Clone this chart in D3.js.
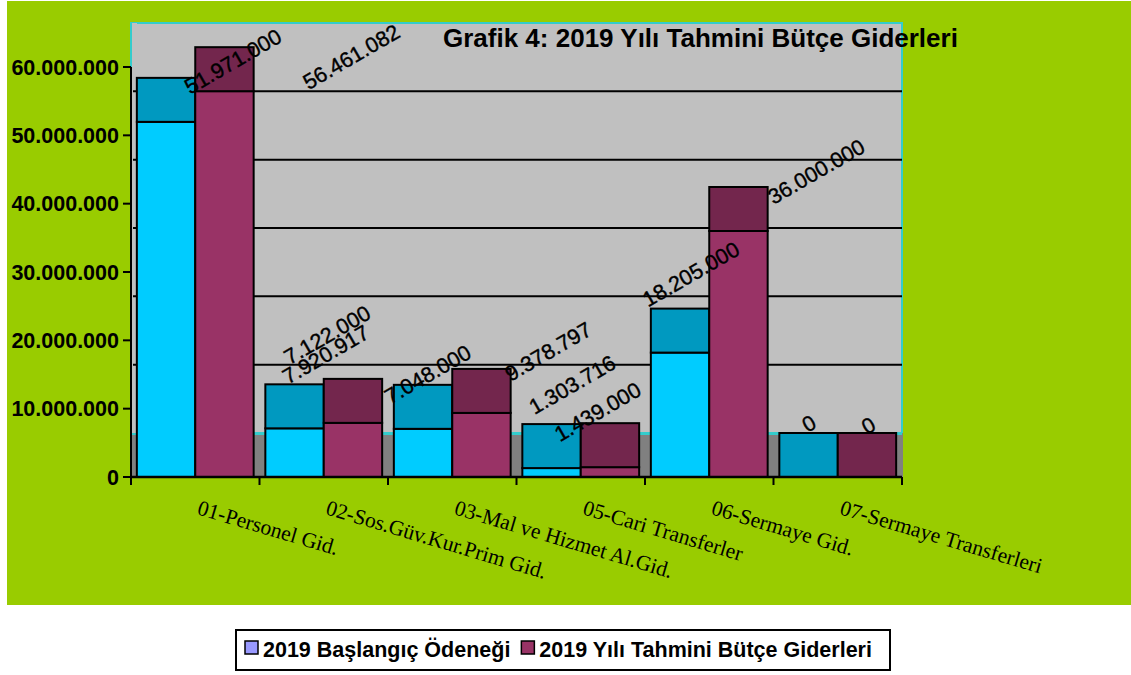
<!DOCTYPE html>
<html>
<head>
<meta charset="utf-8">
<script src="https://cdn.jsdelivr.net/npm/d3@7"></script>
<style>
  body { margin: 0; background: #fff; }
  svg { display: block; font-family: "Liberation Sans", Arial, sans-serif; }
</style>
</head>
<body>
<svg id="chart"></svg>
<script>
// Chart data
const categories = [
    "01-Personel Gid.",
    "02-Sos.Güv.Kur.Prim Gid.",
    "03-Mal ve Hizmet Al.Gid.",
    "05-Cari Transferler",
    "06-Sermaye Gid.",
    "07-Sermaye Transferleri"
];
const seriesNames = ["2019 Başlangıç Ödeneği", "2019 Yılı Tahmini Bütçe Giderleri"];
const baslangic = [51971000, 7122000, 7048000, 1303716, 18205000, 0];
const tahmini = [56461082, 7920917, 9378797, 1439000, 36000000, 0];
const yTicks = [0, 10000000, 20000000, 30000000, 40000000, 50000000, 60000000];
const title = "Grafik 4: 2019 Yılı Tahmini Bütçe Giderleri";

// Excel placed the value labels by hand, so keep a nudge per label (px from bar top centre)
const labelNudge = [
    [[24, -27], [-5, -63], [-33, -24], [-17, -53], [-32, -45], [-1, -44]],
    [[84, -1], [-65, -38], [29, -31], [-50, -25], [35, -26], [0, -42]]
];

const width = 1131;
const height = 675;
const depth = 44;            // pseudo 3D depth of the floor / bar tops
const frontColors = ["#00ccff", "#993366"];
const topColors = ["#0099c0", "#73264d"];
const legendColors = ["#9999ff", "#993366"];

const svg = d3.select("#chart")
    .attr("width", width)
    .attr("height", height);

// Green chart area
svg.append("rect")
    .attr("x", 7).attr("y", 1)
    .attr("width", width - 7).attr("height", 604)
    .attr("fill", "#99cc00");

const x0 = 131, x1 = 902;
const y = d3.scaleLinear().domain([0, 60000000]).range([477, 67]);
const x = d3.scaleBand().domain(categories).range([x0, x1]).padding(0);
const xs = d3.scaleBand().domain([0, 1]).range([0, x.bandwidth()]).paddingOuter(0.1);

const fmt = d3.formatLocale({ decimal: ",", thousands: ".", grouping: [3], currency: ["", ""] }).format(",.0f");

// Back wall
svg.append("rect")
    .attr("x", x0).attr("y", y(60000000) - depth)
    .attr("width", x1 - x0).attr("height", y(0) - depth - (y(60000000) - depth))
    .attr("fill", "#c0c0c0")
    .attr("stroke", "#33cccc")
    .attr("stroke-width", 2);

// Side wall edge (thin strip left of the bars)
svg.append("rect")
    .attr("x", x0 + 1).attr("y", y(60000000) - depth)
    .attr("width", 5).attr("height", y(0) - (y(60000000) - depth))
    .attr("fill", "#c0c0c0");

// Gridlines on the back wall
svg.selectAll(".grid")
    .data(yTicks.filter(d => d > 0 && d < 60000000))
    .enter().append("line")
    .attr("x1", x0 + 2).attr("x2", x1)
    .attr("y1", d => y(d) - depth).attr("y2", d => y(d) - depth)
    .attr("stroke", "#000").attr("stroke-width", 2);

// Floor
svg.append("rect")
    .attr("x", x0).attr("y", y(0) - depth)
    .attr("width", x1 - x0 + 1).attr("height", depth)
    .attr("fill", "#808080");
svg.append("line")
    .attr("x1", x0).attr("x2", x1)
    .attr("y1", y(0) - depth + 1).attr("y2", y(0) - depth + 1)
    .attr("stroke", "#33cccc").attr("stroke-width", 2);

// Bars
const series = [baslangic, tahmini];
series.forEach((vals, s) => {
    const g = svg.append("g");
    const bx = (d, i) => x(categories[i]) + xs(s);

    // front face
    g.selectAll(".front")
        .data(vals)
        .enter().append("rect")
        .attr("x", bx)
        .attr("y", d => y(d))
        .attr("width", xs.bandwidth())
        .attr("height", d => y(0) - y(d))
        .attr("fill", frontColors[s])
        .attr("stroke", "#000").attr("stroke-width", 2);

    // top face
    g.selectAll(".top")
        .data(vals)
        .enter().append("rect")
        .attr("x", bx)
        .attr("y", d => y(d) - depth)
        .attr("width", xs.bandwidth())
        .attr("height", depth)
        .attr("fill", topColors[s])
        .attr("stroke", "#000").attr("stroke-width", 2);
});

// Y axis
svg.append("line")
    .attr("x1", x0).attr("x2", x0)
    .attr("y1", y(60000000)).attr("y2", y(0))
    .attr("stroke", "#000").attr("stroke-width", 2);
const yt = svg.selectAll(".ytick").data(yTicks).enter().append("g")
    .attr("transform", d => `translate(${x0},${y(d)})`);
yt.append("line").attr("x1", -8).attr("x2", 0).attr("stroke", "#000").attr("stroke-width", 2);
yt.append("text")
    .attr("x", -12).attr("dy", "0.36em")
    .attr("text-anchor", "end")
    .attr("font-size", 21.5).attr("font-weight", "bold")
    .text(d => fmt(d));

// X axis
svg.append("line")
    .attr("x1", x0).attr("x2", x1)
    .attr("y1", y(0)).attr("y2", y(0))
    .attr("stroke", "#000").attr("stroke-width", 2.5);
svg.selectAll(".xtick")
    .data(categories.map(c => x(c)).concat([x1]))
    .enter().append("line")
    .attr("x1", d => d).attr("x2", d => d)
    .attr("y1", y(0)).attr("y2", y(0) + 8)
    .attr("stroke", "#000").attr("stroke-width", 2);
svg.selectAll(".xlabel")
    .data(categories)
    .enter().append("text")
    .attr("transform", d => `translate(${x(d) + x.bandwidth() / 2 + 1},514) rotate(16.5)`)
    .style("font-family", "'Liberation Serif', 'Times New Roman', serif")
    .attr("font-size", 21.5)
    .text(d => d);

// Value labels
series.forEach((vals, s) => {
    svg.selectAll(".vlabel" + s)
        .data(vals)
        .enter().append("text")
        .attr("transform", (d, i) => {
            const cx = x(categories[i]) + xs(s) + xs.bandwidth() / 2 + labelNudge[s][i][0];
            const cy = y(d) + labelNudge[s][i][1];
            return `translate(${cx},${cy}) rotate(-30)`;
        })
        .attr("font-size", 21.5)
        .attr("stroke", "#000").attr("stroke-width", 0.4)
        .text(d => fmt(d));
});

// Title
svg.append("text")
    .attr("x", 443).attr("y", 47)
    .attr("font-size", 26).attr("font-weight", "bold")
    .text(title);

// Legend
svg.append("rect")
    .attr("x", 236).attr("y", 630)
    .attr("width", 654).attr("height", 40)
    .attr("fill", "#fff")
    .attr("stroke", "#000").attr("stroke-width", 2);
let lx = 245;
seriesNames.forEach((name, i) => {
    svg.append("rect")
        .attr("x", lx).attr("y", 641)
        .attr("width", 13).attr("height", 13)
        .attr("fill", legendColors[i])
        .attr("stroke", "#000").attr("stroke-width", 1.5);
    const t = svg.append("text")
        .attr("x", lx + 18).attr("y", 657)
        .attr("font-size", 21.5).attr("font-weight", "bold")
        .text(name);
    lx = lx + 18 + t.node().getComputedTextLength() + 11;
});
</script>
</body>
</html>
